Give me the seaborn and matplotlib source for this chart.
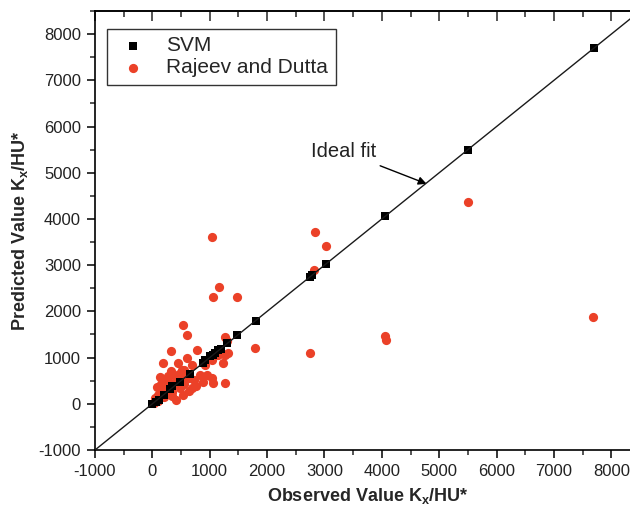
import numpy as np
import pandas as pd
import matplotlib
matplotlib.use("Agg")
import matplotlib.pyplot as plt
from matplotlib.ticker import MultipleLocator
import seaborn as sns

# ---- data ----
svm_obs = [0, 60, 120, 200, 300, 350, 480, 650, 880, 920, 1000, 1050, 1100,
           1150, 1200, 1300, 1480, 1800, 2750, 2790, 3020, 4060, 5500, 7700]
svm_pred = [0, 40, 90, 190, 320, 380, 470, 640, 890, 940, 1030, 1060, 1090,
            1160, 1190, 1320, 1480, 1800, 2740, 2780, 3020, 4070, 5500, 7700]

rd_obs = [1040, 1160, 1050, 1470, 530, 600, 1790, 2740, 2810, 2840, 3020, 4060,
          4080, 5500, 7680, 320, 780, 1270, 1300, 1320, 180, 440, 600, 690, 510,
          920, 1230, 1270, 950, 1040, 890, 1060, 1270, 720, 690, 130, 250, 370,
          80, 480, 340, 540, 50, 190, 20, 420, 300, 600, 1150, 1040, 100, 400, 250,
          150, 230, 280, 350, 420, 470, 560, 640, 330, 200, 100, 480, 560, 830,
          760, 640]
rd_pred = [3620, 2520, 2310, 2310, 1710, 1490, 1200, 1090, 2900, 3720, 3420, 1460,
           1390, 4360, 1870, 1140, 1170, 1450, 1350, 1100, 880, 890, 990, 840, 730,
           850, 880, 1060, 630, 550, 480, 440, 440, 520, 340, 590, 520, 450,
           370, 340, 160, 190, 120, 270, 20, 90, 300, 600, 1060, 950, 200, 600, 380,
           430, 300, 600, 250, 480, 650, 420, 560, 720, 150, 50, 560, 740, 620,
           380, 280]

series_names = ["SVM", "Rajeev and Dutta"]
ideal_line = [-1000, 8500]
x_label = "Observed Value K$_\\mathbf{x}$/HU*"
y_label = "Predicted Value K$_\\mathbf{x}$/HU*"
annot_text = "Ideal fit"

sns.set_theme(style="ticks")
plt.rcParams["font.family"] = ["Liberation Sans", "DejaVu Sans"]
plt.rcParams["mathtext.fontset"] = "custom"
plt.rcParams["mathtext.bf"] = "Liberation Sans:bold"
plt.rcParams["mathtext.rm"] = "Liberation Sans"
plt.rcParams["axes.unicode_minus"] = False

fig = plt.figure(figsize=(6.3, 5.07), dpi=100)
ax = fig.add_axes([95 / 630, 57 / 507, 545 / 630, 439 / 507])

svm_df = pd.DataFrame({"obs": svm_obs, "pred": svm_pred})
rd_df = pd.DataFrame({"obs": rd_obs, "pred": rd_pred})

sns.scatterplot(data=svm_df, x="obs", y="pred", marker="s", color="black",
                s=28, edgecolor="black", linewidth=0, zorder=3,
                label=series_names[0], ax=ax)
sns.scatterplot(data=rd_df, x="obs", y="pred", marker="o", color="#EB4128",
                s=44, edgecolor="#EB4128", linewidth=0, zorder=2,
                label=series_names[1], ax=ax)
sns.lineplot(x=ideal_line, y=ideal_line, color="#1a1a1a", linewidth=1.0,
             zorder=4, ax=ax, legend=False)

ax.set_xlim(-1000, 8500)
ax.set_ylim(-1000, 8500)
ax.xaxis.set_major_locator(MultipleLocator(1000))
ax.xaxis.set_minor_locator(MultipleLocator(500))
ax.yaxis.set_major_locator(MultipleLocator(1000))
ax.yaxis.set_minor_locator(MultipleLocator(500))
ax.tick_params(which="major", direction="out", length=6, width=1.1,
               labelsize=12, color="black", labelcolor="#222222", pad=4)
ax.tick_params(which="minor", direction="out", length=3.5, width=1.1)

for side in ["left", "bottom", "top", "right"]:
    ax.spines[side].set_visible(True)
    ax.spines[side].set_linewidth(1.2)
    ax.spines[side].set_color("black")

secx = ax.secondary_xaxis("top")
secx.xaxis.set_major_locator(MultipleLocator(1000))
secx.xaxis.set_minor_locator(MultipleLocator(500))
secx.tick_params(which="major", direction="in", length=7, width=1.1, labeltop=False)
secx.tick_params(which="minor", direction="in", length=4, width=1.1)

ax.set_xlabel(x_label, fontsize=13, fontweight="bold", labelpad=5)
ax.set_ylabel(y_label, fontsize=13, fontweight="bold", labelpad=6)

ax.annotate(annot_text, xy=(4780, 4760), xytext=(3330, 5460),
            ha="center", va="center", fontsize=14.5, color="#222222",
            arrowprops=dict(arrowstyle="-|>", color="black", lw=1.0,
                            shrinkA=3, shrinkB=0, mutation_scale=12))

leg = ax.legend(loc="upper left", bbox_to_anchor=(12 / 545, (450 - 29) / 439),
                borderaxespad=0, frameon=True, fancybox=False, fontsize=15,
                handletextpad=0.7, labelspacing=0.15, borderpad=0.35,
                handlelength=1.8, markerscale=1.0)
leg.get_frame().set_edgecolor("black")
leg.get_frame().set_linewidth(1.0)

fig.savefig("out.png", dpi=100)
